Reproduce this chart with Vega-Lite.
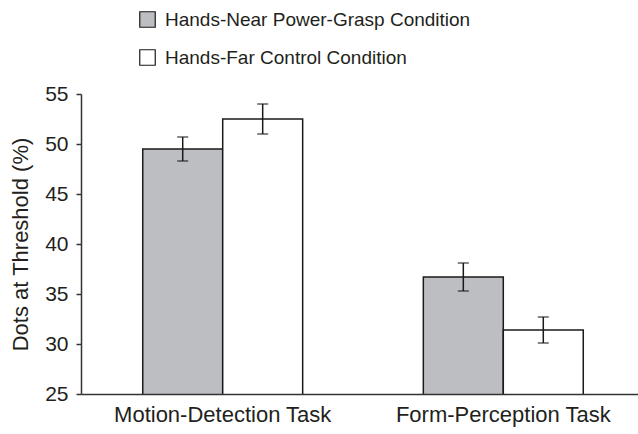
{
  "$schema": "https://vega.github.io/schema/vega-lite/v6.json",
  "width": 564,
  "height": 300,
  "autosize": {"type": "none"},
  "padding": {"left": 81, "top": 94, "right": 0, "bottom": 40},
  "background": "white",
  "data": {
    "values": [
      {"task": "Motion-Detection Task", "condition": "Hands-Near Power-Grasp Condition", "mean": 49.5, "lo": 48.3, "hi": 50.7},
      {"task": "Motion-Detection Task", "condition": "Hands-Far Control Condition", "mean": 52.5, "lo": 51.0, "hi": 54.0},
      {"task": "Form-Perception Task", "condition": "Hands-Near Power-Grasp Condition", "mean": 36.7, "lo": 35.3, "hi": 38.1},
      {"task": "Form-Perception Task", "condition": "Hands-Far Control Condition", "mean": 31.4, "lo": 30.1, "hi": 32.7}
    ]
  },
  "encoding": {
    "x": {
      "field": "task", "type": "nominal",
      "sort": ["Motion-Detection Task", "Form-Perception Task"],
      "scale": {"paddingInner": 0.43, "paddingOuter": 0.22},
      "axis": {"title": null, "ticks": false, "labelAngle": 0, "labelPadding": 10, "labelFontSize": 22, "labelLimit": 400, "domainColor": "#333333", "domainWidth": 1.5, "zindex": 1}
    },
    "xOffset": {
      "field": "condition", "type": "nominal",
      "sort": ["Hands-Near Power-Grasp Condition", "Hands-Far Control Condition"],
      "scale": {"paddingInner": 0, "paddingOuter": 0}
    }
  },
  "layer": [
    {
      "mark": {"type": "bar", "stroke": "#1a1a1a", "strokeWidth": 1.5, "clip": true},
      "encoding": {
        "y": {
          "field": "mean", "type": "quantitative",
          "scale": {"domain": [25, 55], "nice": false, "zero": false},
          "axis": {"title": "Dots at Threshold (%)", "values": [25, 30, 35, 40, 45, 50, 55], "grid": false, "tickSize": 5, "labelPadding": 8, "titlePadding": 12, "labelFontSize": 21, "titleFontSize": 22, "domainColor": "#333333", "domainWidth": 1.5, "tickColor": "#333333", "tickWidth": 1.5, "zindex": 1}
        },
        "fill": {
          "field": "condition", "type": "nominal",
          "sort": ["Hands-Near Power-Grasp Condition", "Hands-Far Control Condition"],
          "scale": {"range": ["#bdbec2", "#ffffff"]},
          "legend": {"title": null, "orient": "none", "legendX": 57, "legendY": -84, "symbolType": "square", "symbolSize": 240, "symbolStrokeColor": "#1a1a1a", "symbolStrokeWidth": 1.2, "labelFontSize": 19, "labelOffset": 8, "labelLimit": 500, "rowPadding": 17, "symbolOpacity": 1}
        }
      }
    },
    {
      "mark": {"type": "rule", "color": "#1a1a1a", "strokeWidth": 1.5},
      "encoding": {
        "y": {"field": "lo", "type": "quantitative"},
        "y2": {"field": "hi"}
      }
    },
    {
      "mark": {"type": "tick", "color": "#1a1a1a", "orient": "horizontal", "size": 11, "thickness": 1.5},
      "encoding": {"y": {"field": "lo", "type": "quantitative"}}
    },
    {
      "mark": {"type": "tick", "color": "#1a1a1a", "orient": "horizontal", "size": 11, "thickness": 1.5},
      "encoding": {"y": {"field": "hi", "type": "quantitative"}}
    }
  ],
  "config": {
    "font": "Liberation Sans, sans-serif",
    "view": {"stroke": null},
    "axis": {"labelColor": "#231f20", "titleColor": "#231f20", "labelFont": "Liberation Sans, sans-serif", "titleFont": "Liberation Sans, sans-serif", "titleFontWeight": "normal"},
    "legend": {"labelColor": "#231f20", "labelFont": "Liberation Sans, sans-serif"}
  }
}
